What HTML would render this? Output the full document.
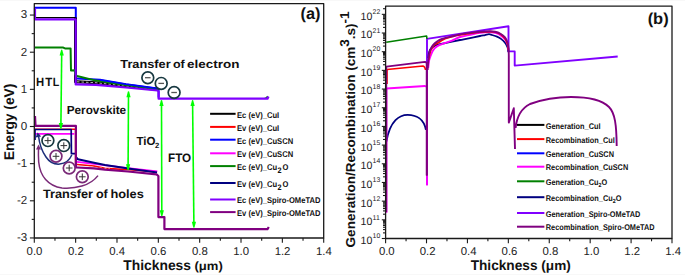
<!DOCTYPE html>
<html><head><meta charset="utf-8"><style>
html,body{margin:0;padding:0;background:#fff;}
body{width:685px;height:275px;overflow:hidden;}
svg{display:block;font-family:"Liberation Sans", sans-serif;text-rendering:geometricPrecision;}
</style></head><body>
<svg width="685" height="275" viewBox="0 0 685 275">
<rect width="685" height="275" fill="#fff"/>
<rect width="685" height="1" fill="#f8f8f8"/>
<rect y="274" width="685" height="1" fill="#f8f8f8"/>
<path d="M35.00,129.20 L75.60,129.20 L75.60,164.50 L77.00,164.50 L94.00,166.00 L105.00,168.40 L130.00,169.80 L157.00,171.90" fill="none" stroke="#ff0000" stroke-width="1.6" stroke-linejoin="round" />
<path d="M77.00,166.20 L94.00,167.30 L110.00,168.80" fill="none" stroke="#ffffff" stroke-width="0.6" stroke-linejoin="round" stroke-dasharray="2.5,2"/>
<path d="M35.50,133.90 L74.30,133.90" fill="none" stroke="#ff00ff" stroke-width="1.8" stroke-linejoin="round" />
<path d="M77.00,161.80 L94.00,163.80 L110.00,165.80 L128.00,168.10 L157.30,171.30" fill="none" stroke="#ff00ff" stroke-width="1.8" stroke-linejoin="round" />
<path d="M35.00,140.00 L35.00,129.50 L71.20,129.50 L71.40,153.70 L75.50,153.70" fill="none" stroke="#000080" stroke-width="1.7" stroke-linejoin="round" />
<path d="M75.80,157.00 L78.00,159.20 L94.00,162.70 L105.00,165.00 L130.00,168.80 L157.00,172.50" fill="none" stroke="#000080" stroke-width="2.0" stroke-linejoin="round" />
<path d="M35.00,116.00 L35.50,125.90 L75.90,125.90 L75.90,167.50 L77.00,167.50 L94.00,168.30 L105.00,169.70 L128.00,171.50 L156.50,174.40 L158.40,176.00 L158.40,217.10 L164.40,217.10 L164.40,229.10 L267.50,229.10 L268.80,227.00" fill="none" stroke="#800080" stroke-width="2.2" stroke-linejoin="round" />
<path d="M35.00,12.00 L35.00,7.80 L75.80,7.80 L75.80,78.50 L77.00,78.50 L100.00,79.80 L126.00,84.20 L157.50,88.50 L158.60,89.50 L158.60,97.50" fill="none" stroke="#0000ff" stroke-width="2.0" stroke-linejoin="round" />
<path d="M35.00,17.60 L75.50,17.60" fill="none" stroke="#000000" stroke-width="1.2" stroke-linejoin="round" />
<path d="M75.50,17.60 L75.50,81.80 L77.00,81.80 L96.00,82.70 L126.00,86.00 L157.50,89.50" fill="none" stroke="#000000" stroke-width="3.0" stroke-linejoin="round" />
<path d="M77.00,81.80 L96.00,82.70 L126.00,86.00 L150.00,88.70" fill="none" stroke="#ffffff" stroke-width="0.7" stroke-linejoin="round" stroke-dasharray="2.5,2"/>
<path d="M35.00,47.60 L63.30,47.60 L65.00,48.40 L70.60,48.40 L71.00,70.60 L74.70,70.30 L75.30,74.50 L77.00,76.00 L96.00,80.60 L126.00,84.90 L157.50,89.20" fill="none" stroke="#008000" stroke-width="2.0" stroke-linejoin="round" />
<path d="M100.00,80.00 L126.00,84.20 L157.50,88.50" fill="none" stroke="#0000ff" stroke-width="1.4" stroke-linejoin="round" />
<path d="M264.50,98.60 L266.50,97.60 L267.80,96.20" fill="none" stroke="#008000" stroke-width="1.4" stroke-linejoin="round" />
<path d="M35.00,8.00 L35.00,19.30 L75.70,19.30 L75.70,84.40 L77.00,84.40 L96.00,84.90 L126.00,87.50 L157.50,90.50 L158.60,91.50 L158.60,98.70 L267.50,98.70 L268.50,96.50" fill="none" stroke="#8000ff" stroke-width="2.2" stroke-linejoin="round" />
<line x1="61.70" y1="53.60" x2="60.90" y2="125.00" stroke="#00ff00" stroke-width="1.6"/>
<path d="M59.60,55.60 L61.10,49.90 L61.70,49.60 L62.30,49.90 L63.80,55.60 Z" fill="#00ff00"/>
<path d="M58.80,123.00 L60.30,128.70 L60.90,129.00 L61.50,128.70 L63.00,123.00 Z" fill="#00ff00"/>
<line x1="128.50" y1="95.20" x2="128.10" y2="166.30" stroke="#00ff00" stroke-width="1.6"/>
<path d="M126.40,97.20 L127.90,91.50 L128.50,91.20 L129.10,91.50 L130.60,97.20 Z" fill="#00ff00"/>
<path d="M126.00,164.30 L127.50,170.00 L128.10,170.30 L128.70,170.00 L130.20,164.30 Z" fill="#00ff00"/>
<line x1="161.50" y1="103.90" x2="161.80" y2="212.20" stroke="#00ff00" stroke-width="1.6"/>
<path d="M159.40,105.90 L160.90,100.20 L161.50,99.90 L162.10,100.20 L163.60,105.90 Z" fill="#00ff00"/>
<path d="M159.70,210.20 L161.20,215.90 L161.80,216.20 L162.40,215.90 L163.90,210.20 Z" fill="#00ff00"/>
<line x1="192.60" y1="103.90" x2="193.90" y2="223.80" stroke="#00ff00" stroke-width="1.6"/>
<path d="M190.50,105.90 L192.00,100.20 L192.60,99.90 L193.20,100.20 L194.70,105.90 Z" fill="#00ff00"/>
<path d="M191.80,221.80 L193.30,227.50 L193.90,227.80 L194.50,227.50 L196.00,221.80 Z" fill="#00ff00"/>
<path d="M 71.8,155 C 67,166 53,167.5 46,157 C 41.5,150.5 39.2,142 38.6,136.5" fill="none" stroke="#1c2f7a" stroke-width="1.5" stroke-linejoin="round" />
<path d="M35.6,137.6 L37.6,132.6 L41.2,136.4 Z" fill="#1c2f7a"/>
<path d="M 98,175.6 C 90,186 75,189 62,188 C 48,186 40,176 38.7,162 C 38.3,155 38.4,151 38.5,148.5" fill="none" stroke="#7a2a78" stroke-width="1.5" stroke-linejoin="round" />
<path d="M36.0,149.6 L38.5,144.6 L41.0,149.6 Z" fill="#7a2a78"/>
<circle cx="147.8" cy="77.7" r="5.9" fill="none" stroke="#173840" stroke-width="1.7"/>
<line x1="145.00" y1="77.70" x2="150.60" y2="77.70" stroke="#555" stroke-width="1.3"/>
<circle cx="161.2" cy="83.4" r="5.9" fill="none" stroke="#173840" stroke-width="1.7"/>
<line x1="158.40" y1="83.40" x2="164.00" y2="83.40" stroke="#555" stroke-width="1.3"/>
<circle cx="174.1" cy="92.5" r="5.9" fill="none" stroke="#173840" stroke-width="1.7"/>
<line x1="171.30" y1="92.50" x2="176.90" y2="92.50" stroke="#555" stroke-width="1.3"/>
<circle cx="47.9" cy="140.6" r="5.9" fill="none" stroke="#173840" stroke-width="1.7"/>
<line x1="44.60" y1="140.60" x2="51.20" y2="140.60" stroke="#333" stroke-width="1.0"/>
<line x1="47.90" y1="137.30" x2="47.90" y2="143.90" stroke="#333" stroke-width="1.0"/>
<circle cx="63.8" cy="145.6" r="5.9" fill="none" stroke="#173840" stroke-width="1.7"/>
<line x1="60.50" y1="145.60" x2="67.10" y2="145.60" stroke="#333" stroke-width="1.0"/>
<line x1="63.80" y1="142.30" x2="63.80" y2="148.90" stroke="#333" stroke-width="1.0"/>
<circle cx="56.0" cy="156.3" r="5.9" fill="none" stroke="#7a2a78" stroke-width="1.7"/>
<line x1="52.70" y1="156.30" x2="59.30" y2="156.30" stroke="#333" stroke-width="1.0"/>
<line x1="56.00" y1="153.00" x2="56.00" y2="159.60" stroke="#333" stroke-width="1.0"/>
<circle cx="69.2" cy="168.0" r="5.9" fill="none" stroke="#7a2a78" stroke-width="1.7"/>
<line x1="65.90" y1="168.00" x2="72.50" y2="168.00" stroke="#333" stroke-width="1.0"/>
<line x1="69.20" y1="164.70" x2="69.20" y2="171.30" stroke="#333" stroke-width="1.0"/>
<circle cx="82.3" cy="176.8" r="5.9" fill="none" stroke="#7a2a78" stroke-width="1.7"/>
<line x1="79.00" y1="176.80" x2="85.60" y2="176.80" stroke="#333" stroke-width="1.0"/>
<line x1="82.30" y1="173.50" x2="82.30" y2="180.10" stroke="#333" stroke-width="1.0"/>
<line x1="210.10" y1="113.80" x2="235.60" y2="113.80" stroke="#000000" stroke-width="2.0"/>
<text transform="translate(237.0,117.60) scale(0.907,1)" font-size="8.4" font-weight="bold" fill="#111">Ec (eV)_CuI</text>
<line x1="210.10" y1="126.90" x2="235.60" y2="126.90" stroke="#ff0000" stroke-width="2.0"/>
<text transform="translate(237.0,130.70) scale(0.907,1)" font-size="8.4" font-weight="bold" fill="#111">Ev (eV)_CuI</text>
<line x1="210.10" y1="139.70" x2="235.60" y2="139.70" stroke="#0000ff" stroke-width="2.0"/>
<text transform="translate(237.0,143.50) scale(0.907,1)" font-size="8.4" font-weight="bold" fill="#111">Ec (eV)_CuSCN</text>
<line x1="210.10" y1="153.30" x2="235.60" y2="153.30" stroke="#ff00ff" stroke-width="2.0"/>
<text transform="translate(237.0,157.10) scale(0.907,1)" font-size="8.4" font-weight="bold" fill="#111">Ev (eV)_CuSCN</text>
<line x1="210.10" y1="166.10" x2="235.60" y2="166.10" stroke="#008000" stroke-width="2.0"/>
<text transform="translate(237.0,169.90) scale(0.907,1)" font-size="8.4" font-weight="bold" fill="#111">Ec (eV)_Cu<tspan font-size="8.0" dx="0.5" dy="2.7">2</tspan><tspan dx="0.9" dy="-2.7">O</tspan></text>
<line x1="210.10" y1="183.00" x2="235.60" y2="183.00" stroke="#000080" stroke-width="2.0"/>
<text transform="translate(237.0,186.80) scale(0.907,1)" font-size="8.4" font-weight="bold" fill="#111">Ev (eV)_Cu<tspan font-size="8.0" dx="0.5" dy="2.7">2</tspan><tspan dx="0.9" dy="-2.7">O</tspan></text>
<line x1="210.10" y1="199.50" x2="235.60" y2="199.50" stroke="#8000ff" stroke-width="2.0"/>
<text transform="translate(237.0,203.30) scale(0.907,1)" font-size="8.4" font-weight="bold" fill="#111">Ec (eV)_Spiro-OMeTAD</text>
<line x1="210.10" y1="212.10" x2="235.60" y2="212.10" stroke="#800080" stroke-width="2.0"/>
<text transform="translate(237.0,215.90) scale(0.907,1)" font-size="8.4" font-weight="bold" fill="#111">Ev (eV)_Spiro-OMeTAD</text>
<rect x="34.3" y="3.6" width="289.40" height="234.40" fill="none" stroke="#1a1a1a" stroke-width="1.3" stroke-linejoin="round"/>
<line x1="34.30" y1="238.00" x2="34.30" y2="242.80" stroke="#1a1a1a" stroke-width="1.1"/>
<line x1="54.97" y1="238.00" x2="54.97" y2="240.80" stroke="#1a1a1a" stroke-width="1.1"/>
<line x1="75.64" y1="238.00" x2="75.64" y2="242.80" stroke="#1a1a1a" stroke-width="1.1"/>
<line x1="96.31" y1="238.00" x2="96.31" y2="240.80" stroke="#1a1a1a" stroke-width="1.1"/>
<line x1="116.99" y1="238.00" x2="116.99" y2="242.80" stroke="#1a1a1a" stroke-width="1.1"/>
<line x1="137.66" y1="238.00" x2="137.66" y2="240.80" stroke="#1a1a1a" stroke-width="1.1"/>
<line x1="158.33" y1="238.00" x2="158.33" y2="242.80" stroke="#1a1a1a" stroke-width="1.1"/>
<line x1="179.00" y1="238.00" x2="179.00" y2="240.80" stroke="#1a1a1a" stroke-width="1.1"/>
<line x1="199.67" y1="238.00" x2="199.67" y2="242.80" stroke="#1a1a1a" stroke-width="1.1"/>
<line x1="220.34" y1="238.00" x2="220.34" y2="240.80" stroke="#1a1a1a" stroke-width="1.1"/>
<line x1="241.01" y1="238.00" x2="241.01" y2="242.80" stroke="#1a1a1a" stroke-width="1.1"/>
<line x1="261.69" y1="238.00" x2="261.69" y2="240.80" stroke="#1a1a1a" stroke-width="1.1"/>
<line x1="282.36" y1="238.00" x2="282.36" y2="242.80" stroke="#1a1a1a" stroke-width="1.1"/>
<line x1="303.03" y1="238.00" x2="303.03" y2="240.80" stroke="#1a1a1a" stroke-width="1.1"/>
<line x1="323.70" y1="238.00" x2="323.70" y2="242.80" stroke="#1a1a1a" stroke-width="1.1"/>
<text x="34.5" y="255.4" font-size="11.4" font-weight="normal" text-anchor="middle" fill="#222" >0.0</text>
<text x="75.84" y="255.4" font-size="11.4" font-weight="normal" text-anchor="middle" fill="#222" >0.2</text>
<text x="117.19" y="255.4" font-size="11.4" font-weight="normal" text-anchor="middle" fill="#222" >0.4</text>
<text x="158.53" y="255.4" font-size="11.4" font-weight="normal" text-anchor="middle" fill="#222" >0.6</text>
<text x="199.87" y="255.4" font-size="11.4" font-weight="normal" text-anchor="middle" fill="#222" >0.8</text>
<text x="241.21" y="255.4" font-size="11.4" font-weight="normal" text-anchor="middle" fill="#222" >1.0</text>
<text x="282.56" y="255.4" font-size="11.4" font-weight="normal" text-anchor="middle" fill="#222" >1.2</text>
<text x="323.9" y="255.4" font-size="11.4" font-weight="normal" text-anchor="middle" fill="#222" >1.4</text>
<line x1="29.90" y1="237.95" x2="34.30" y2="237.95" stroke="#1a1a1a" stroke-width="1.1"/>
<line x1="31.70" y1="219.38" x2="34.30" y2="219.38" stroke="#1a1a1a" stroke-width="1.1"/>
<line x1="29.90" y1="200.80" x2="34.30" y2="200.80" stroke="#1a1a1a" stroke-width="1.1"/>
<line x1="31.70" y1="182.22" x2="34.30" y2="182.22" stroke="#1a1a1a" stroke-width="1.1"/>
<line x1="29.90" y1="163.65" x2="34.30" y2="163.65" stroke="#1a1a1a" stroke-width="1.1"/>
<line x1="31.70" y1="145.07" x2="34.30" y2="145.07" stroke="#1a1a1a" stroke-width="1.1"/>
<line x1="29.90" y1="126.50" x2="34.30" y2="126.50" stroke="#1a1a1a" stroke-width="1.1"/>
<line x1="31.70" y1="107.92" x2="34.30" y2="107.92" stroke="#1a1a1a" stroke-width="1.1"/>
<line x1="29.90" y1="89.35" x2="34.30" y2="89.35" stroke="#1a1a1a" stroke-width="1.1"/>
<line x1="31.70" y1="70.78" x2="34.30" y2="70.78" stroke="#1a1a1a" stroke-width="1.1"/>
<line x1="29.90" y1="52.20" x2="34.30" y2="52.20" stroke="#1a1a1a" stroke-width="1.1"/>
<line x1="31.70" y1="33.62" x2="34.30" y2="33.62" stroke="#1a1a1a" stroke-width="1.1"/>
<line x1="29.90" y1="15.05" x2="34.30" y2="15.05" stroke="#1a1a1a" stroke-width="1.1"/>
<text x="27.2" y="241.35" font-size="11.6" font-weight="normal" text-anchor="end" fill="#222" >-3</text>
<text x="27.2" y="204.2" font-size="11.6" font-weight="normal" text-anchor="end" fill="#222" >-2</text>
<text x="27.2" y="167.05" font-size="11.6" font-weight="normal" text-anchor="end" fill="#222" >-1</text>
<text x="27.2" y="129.9" font-size="11.6" font-weight="normal" text-anchor="end" fill="#222" >0</text>
<text x="27.2" y="92.75" font-size="11.6" font-weight="normal" text-anchor="end" fill="#222" >1</text>
<text x="27.2" y="55.6" font-size="11.6" font-weight="normal" text-anchor="end" fill="#222" >2</text>
<text x="27.2" y="18.45" font-size="11.6" font-weight="normal" text-anchor="end" fill="#222" >3</text>
<path d="M427.00,185.00 L427.00,38.90 L508.50,26.30 L508.50,51.40 L514.70,51.40 L514.70,65.60 L617.70,56.50" fill="none" stroke="#8000ff" stroke-width="1.9" stroke-linejoin="round" />
<path d="M386.20,42.20 L426.60,36.00 L427.00,39.00" fill="none" stroke="#008000" stroke-width="1.6" stroke-linejoin="round" />
<path d="M 386.4,141.5 C 390,120 400,114.8 407.6,114.8 C 416,114.8 424,119 425.9,129.9" fill="none" stroke="#000080" stroke-width="1.8" stroke-linejoin="round" />
<path d="M386.50,212.70 L386.50,88.50 L425.00,86.00 L427.00,87.00 L427.00,185.50" fill="none" stroke="#ff00ff" stroke-width="1.8" stroke-linejoin="round" />
<path d="M387.30,84.00 L387.30,69.80" fill="none" stroke="#ff0000" stroke-width="1.0" stroke-linejoin="round" />
<path d="M387.00,69.60 L423.00,66.00 Q425,66.5 425.5,70" fill="none" stroke="#ff0000" stroke-width="1.5" stroke-linejoin="round" />
<path d="M386.30,212.00 L386.30,66.70 L425.00,61.80 L426.80,63.00 L426.80,175.50" fill="none" stroke="#800080" stroke-width="1.8" stroke-linejoin="round" />
<path d="M426.80,62.00 L426.80,175.50" fill="none" stroke="#800080" stroke-width="1.9" stroke-linejoin="round" />
<path d="M428.40,58.00 C428.53,57.00 428.77,53.57 429.20,52.00 C429.63,50.43 430.20,49.57 431.00,48.60 C431.80,47.63 433.00,46.83 434.00,46.20 C435.00,45.57 435.17,45.32 437.00,44.80 C438.83,44.28 442.50,43.63 445.00,43.10 C447.50,42.57 449.50,42.12 452.00,41.60 C454.50,41.08 457.00,40.58 460.00,40.00 C463.00,39.42 466.67,38.77 470.00,38.10 C473.33,37.43 477.50,36.50 480.00,36.00 C482.50,35.50 483.50,35.40 485.00,35.10 C486.50,34.80 487.83,34.22 489.00,34.20 C490.17,34.18 490.67,34.58 492.00,35.00 C493.33,35.42 495.50,36.05 497.00,36.70 C498.50,37.35 499.67,37.90 501.00,38.90 C502.33,39.90 503.92,41.33 505.00,42.70 C506.08,44.07 506.92,45.55 507.50,47.10 C508.08,48.65 508.33,51.18 508.50,52.00" fill="none" stroke="#000080" stroke-width="1.8" stroke-linejoin="round" />
<path d="M428.20,68.00 C428.33,66.83 428.70,62.75 429.00,61.00 C429.30,59.25 429.33,59.25 430.00,57.50 C430.67,55.75 431.83,52.35 433.00,50.50 C434.17,48.65 435.00,47.65 437.00,46.40 C439.00,45.15 442.50,43.97 445.00,43.00 C447.50,42.03 449.50,41.60 452.00,40.60 C454.50,39.60 457.00,37.97 460.00,37.00 C463.00,36.03 466.67,35.48 470.00,34.80 C473.33,34.12 476.83,33.37 480.00,32.90 C483.17,32.43 486.50,32.00 489.00,32.00 C491.50,32.00 493.17,32.42 495.00,32.90 C496.83,33.38 498.33,33.82 500.00,34.90 C501.67,35.98 503.75,37.85 505.00,39.40 C506.25,40.95 506.92,42.43 507.50,44.20 C508.08,45.97 508.33,49.03 508.50,50.00" fill="none" stroke="#ff00ff" stroke-width="1.9" stroke-linejoin="round" />
<path d="M428.60,60.00 C428.75,59.17 429.10,56.67 429.50,55.00 C429.90,53.33 430.25,51.58 431.00,50.00 C431.75,48.42 433.00,46.58 434.00,45.50 C435.00,44.42 435.83,44.25 437.00,43.50 C438.17,42.75 439.67,41.78 441.00,41.00 C442.33,40.22 443.17,39.53 445.00,38.80 C446.83,38.07 449.50,37.23 452.00,36.60 C454.50,35.97 457.00,35.53 460.00,35.00 C463.00,34.47 466.67,33.87 470.00,33.40 C473.33,32.93 476.67,32.50 480.00,32.20 C483.33,31.90 487.33,31.58 490.00,31.60 C492.67,31.62 494.17,31.82 496.00,32.30 C497.83,32.78 499.50,33.45 501.00,34.50 C502.50,35.55 503.92,37.02 505.00,38.60 C506.08,40.18 506.92,42.10 507.50,44.00 C508.08,45.90 508.33,49.00 508.50,50.00" fill="none" stroke="#ff0000" stroke-width="1.7" stroke-linejoin="round" />
<path d="M427.60,70.00 C427.73,68.33 428.12,62.83 428.40,60.00 C428.68,57.17 428.95,54.75 429.30,53.00 C429.65,51.25 429.88,50.80 430.50,49.50 C431.12,48.20 431.92,46.52 433.00,45.20 C434.08,43.88 435.50,42.63 437.00,41.60 C438.50,40.57 439.50,39.87 442.00,39.00 C444.50,38.13 449.00,37.17 452.00,36.40 C455.00,35.63 457.00,34.98 460.00,34.40 C463.00,33.82 466.67,33.33 470.00,32.90 C473.33,32.47 476.67,32.07 480.00,31.80 C483.33,31.53 487.50,31.30 490.00,31.30 C492.50,31.30 493.33,31.43 495.00,31.80 C496.67,32.17 498.33,32.58 500.00,33.50 C501.67,34.42 503.73,35.77 505.00,37.30 C506.27,38.83 507.00,40.70 507.60,42.70 C508.20,44.70 508.40,47.08 508.60,49.30 C508.80,51.52 508.77,54.88 508.80,56.00 L508.8,122.6 L513.8,108.2 L515,149 M515.6,128 C517,115 522,108 530,104 C545,98.5 560,97 571,97 C590,97 603,101 609,107 C615,113 616.5,125 616.7,146" fill="none" stroke="#800080" stroke-width="1.9" stroke-linejoin="round" />
<line x1="517.00" y1="124.90" x2="544.40" y2="124.90" stroke="#000000" stroke-width="2.0"/>
<text transform="translate(545.8,128.60) scale(0.885,1)" font-size="8.3" font-weight="bold" fill="#111">Generation_CuI</text>
<line x1="517.00" y1="139.10" x2="544.40" y2="139.10" stroke="#ff0000" stroke-width="2.0"/>
<text transform="translate(545.8,142.80) scale(0.885,1)" font-size="8.3" font-weight="bold" fill="#111">Recombination_CuI</text>
<line x1="517.00" y1="153.30" x2="544.40" y2="153.30" stroke="#0000ff" stroke-width="2.0"/>
<text transform="translate(545.8,157.00) scale(0.885,1)" font-size="8.3" font-weight="bold" fill="#111">Generation_CuSCN</text>
<line x1="517.00" y1="166.70" x2="544.40" y2="166.70" stroke="#ff00ff" stroke-width="2.0"/>
<text transform="translate(545.8,170.40) scale(0.885,1)" font-size="8.3" font-weight="bold" fill="#111">Recombination_CuSCN</text>
<line x1="517.00" y1="181.30" x2="544.40" y2="181.30" stroke="#008000" stroke-width="2.0"/>
<text transform="translate(545.8,185.00) scale(0.885,1)" font-size="8.3" font-weight="bold" fill="#111">Generation_Cu<tspan font-size="6" dy="2.2">2</tspan><tspan dy="-2.2">O</tspan></text>
<line x1="517.00" y1="197.20" x2="544.40" y2="197.20" stroke="#000080" stroke-width="2.0"/>
<text transform="translate(545.8,200.90) scale(0.885,1)" font-size="8.3" font-weight="bold" fill="#111">Recombination_Cu<tspan font-size="6" dy="2.2">2</tspan><tspan dy="-2.2">O</tspan></text>
<line x1="517.00" y1="213.00" x2="544.40" y2="213.00" stroke="#8000ff" stroke-width="2.0"/>
<text transform="translate(545.8,216.70) scale(0.885,1)" font-size="8.3" font-weight="bold" fill="#111">Generation_Spiro-OMeTAD</text>
<line x1="517.00" y1="226.70" x2="544.40" y2="226.70" stroke="#800080" stroke-width="2.0"/>
<text transform="translate(545.8,230.40) scale(0.885,1)" font-size="8.3" font-weight="bold" fill="#111">Recombination_Spiro-OMeTAD</text>
<rect x="385.6" y="6.1" width="286.40" height="232.40" fill="none" stroke="#1a1a1a" stroke-width="1.3" stroke-linejoin="round"/>
<line x1="385.60" y1="238.50" x2="385.60" y2="243.30" stroke="#1a1a1a" stroke-width="1.1"/>
<line x1="406.06" y1="238.50" x2="406.06" y2="241.30" stroke="#1a1a1a" stroke-width="1.1"/>
<line x1="426.51" y1="238.50" x2="426.51" y2="243.30" stroke="#1a1a1a" stroke-width="1.1"/>
<line x1="446.97" y1="238.50" x2="446.97" y2="241.30" stroke="#1a1a1a" stroke-width="1.1"/>
<line x1="467.43" y1="238.50" x2="467.43" y2="243.30" stroke="#1a1a1a" stroke-width="1.1"/>
<line x1="487.89" y1="238.50" x2="487.89" y2="241.30" stroke="#1a1a1a" stroke-width="1.1"/>
<line x1="508.34" y1="238.50" x2="508.34" y2="243.30" stroke="#1a1a1a" stroke-width="1.1"/>
<line x1="528.80" y1="238.50" x2="528.80" y2="241.30" stroke="#1a1a1a" stroke-width="1.1"/>
<line x1="549.26" y1="238.50" x2="549.26" y2="243.30" stroke="#1a1a1a" stroke-width="1.1"/>
<line x1="569.71" y1="238.50" x2="569.71" y2="241.30" stroke="#1a1a1a" stroke-width="1.1"/>
<line x1="590.17" y1="238.50" x2="590.17" y2="243.30" stroke="#1a1a1a" stroke-width="1.1"/>
<line x1="610.63" y1="238.50" x2="610.63" y2="241.30" stroke="#1a1a1a" stroke-width="1.1"/>
<line x1="631.09" y1="238.50" x2="631.09" y2="243.30" stroke="#1a1a1a" stroke-width="1.1"/>
<line x1="651.54" y1="238.50" x2="651.54" y2="241.30" stroke="#1a1a1a" stroke-width="1.1"/>
<line x1="672.00" y1="238.50" x2="672.00" y2="243.30" stroke="#1a1a1a" stroke-width="1.1"/>
<text x="386.8" y="255.4" font-size="11.4" font-weight="normal" text-anchor="middle" fill="#222" >0.0</text>
<text x="427.71" y="255.4" font-size="11.4" font-weight="normal" text-anchor="middle" fill="#222" >0.2</text>
<text x="468.63" y="255.4" font-size="11.4" font-weight="normal" text-anchor="middle" fill="#222" >0.4</text>
<text x="509.54" y="255.4" font-size="11.4" font-weight="normal" text-anchor="middle" fill="#222" >0.6</text>
<text x="550.46" y="255.4" font-size="11.4" font-weight="normal" text-anchor="middle" fill="#222" >0.8</text>
<text x="591.37" y="255.4" font-size="11.4" font-weight="normal" text-anchor="middle" fill="#222" >1.0</text>
<text x="632.29" y="255.4" font-size="11.4" font-weight="normal" text-anchor="middle" fill="#222" >1.2</text>
<text x="673.2" y="255.4" font-size="11.4" font-weight="normal" text-anchor="middle" fill="#222" >1.4</text>
<line x1="381.80" y1="238.50" x2="385.60" y2="238.50" stroke="#1a1a1a" stroke-width="1.1"/>
<line x1="383.00" y1="232.88" x2="385.60" y2="232.88" stroke="#1a1a1a" stroke-width="1.1"/>
<line x1="383.00" y1="229.59" x2="385.60" y2="229.59" stroke="#1a1a1a" stroke-width="1.1"/>
<line x1="383.00" y1="227.25" x2="385.60" y2="227.25" stroke="#1a1a1a" stroke-width="1.1"/>
<line x1="383.00" y1="225.44" x2="385.60" y2="225.44" stroke="#1a1a1a" stroke-width="1.1"/>
<line x1="383.00" y1="223.96" x2="385.60" y2="223.96" stroke="#1a1a1a" stroke-width="1.1"/>
<line x1="383.00" y1="222.71" x2="385.60" y2="222.71" stroke="#1a1a1a" stroke-width="1.1"/>
<line x1="383.00" y1="221.63" x2="385.60" y2="221.63" stroke="#1a1a1a" stroke-width="1.1"/>
<line x1="383.00" y1="220.67" x2="385.60" y2="220.67" stroke="#1a1a1a" stroke-width="1.1"/>
<text x="372.4" y="243.9" font-size="10.6" font-weight="normal" text-anchor="end" fill="#222" >10</text>
<text x="372.6" y="238.2" font-size="6.9" font-weight="normal" text-anchor="start" fill="#222" >10</text>
<line x1="381.80" y1="219.82" x2="385.60" y2="219.82" stroke="#1a1a1a" stroke-width="1.1"/>
<line x1="383.00" y1="214.20" x2="385.60" y2="214.20" stroke="#1a1a1a" stroke-width="1.1"/>
<line x1="383.00" y1="210.91" x2="385.60" y2="210.91" stroke="#1a1a1a" stroke-width="1.1"/>
<line x1="383.00" y1="208.57" x2="385.60" y2="208.57" stroke="#1a1a1a" stroke-width="1.1"/>
<line x1="383.00" y1="206.76" x2="385.60" y2="206.76" stroke="#1a1a1a" stroke-width="1.1"/>
<line x1="383.00" y1="205.28" x2="385.60" y2="205.28" stroke="#1a1a1a" stroke-width="1.1"/>
<line x1="383.00" y1="204.03" x2="385.60" y2="204.03" stroke="#1a1a1a" stroke-width="1.1"/>
<line x1="383.00" y1="202.95" x2="385.60" y2="202.95" stroke="#1a1a1a" stroke-width="1.1"/>
<line x1="383.00" y1="201.99" x2="385.60" y2="201.99" stroke="#1a1a1a" stroke-width="1.1"/>
<text x="372.4" y="225.22" font-size="10.6" font-weight="normal" text-anchor="end" fill="#222" >10</text>
<text x="372.6" y="219.52" font-size="6.9" font-weight="normal" text-anchor="start" fill="#222" >11</text>
<line x1="381.80" y1="201.14" x2="385.60" y2="201.14" stroke="#1a1a1a" stroke-width="1.1"/>
<line x1="383.00" y1="195.52" x2="385.60" y2="195.52" stroke="#1a1a1a" stroke-width="1.1"/>
<line x1="383.00" y1="192.23" x2="385.60" y2="192.23" stroke="#1a1a1a" stroke-width="1.1"/>
<line x1="383.00" y1="189.89" x2="385.60" y2="189.89" stroke="#1a1a1a" stroke-width="1.1"/>
<line x1="383.00" y1="188.08" x2="385.60" y2="188.08" stroke="#1a1a1a" stroke-width="1.1"/>
<line x1="383.00" y1="186.60" x2="385.60" y2="186.60" stroke="#1a1a1a" stroke-width="1.1"/>
<line x1="383.00" y1="185.35" x2="385.60" y2="185.35" stroke="#1a1a1a" stroke-width="1.1"/>
<line x1="383.00" y1="184.27" x2="385.60" y2="184.27" stroke="#1a1a1a" stroke-width="1.1"/>
<line x1="383.00" y1="183.31" x2="385.60" y2="183.31" stroke="#1a1a1a" stroke-width="1.1"/>
<text x="372.4" y="206.54" font-size="10.6" font-weight="normal" text-anchor="end" fill="#222" >10</text>
<text x="372.6" y="200.84" font-size="6.9" font-weight="normal" text-anchor="start" fill="#222" >12</text>
<line x1="381.80" y1="182.46" x2="385.60" y2="182.46" stroke="#1a1a1a" stroke-width="1.1"/>
<line x1="383.00" y1="176.84" x2="385.60" y2="176.84" stroke="#1a1a1a" stroke-width="1.1"/>
<line x1="383.00" y1="173.55" x2="385.60" y2="173.55" stroke="#1a1a1a" stroke-width="1.1"/>
<line x1="383.00" y1="171.21" x2="385.60" y2="171.21" stroke="#1a1a1a" stroke-width="1.1"/>
<line x1="383.00" y1="169.40" x2="385.60" y2="169.40" stroke="#1a1a1a" stroke-width="1.1"/>
<line x1="383.00" y1="167.92" x2="385.60" y2="167.92" stroke="#1a1a1a" stroke-width="1.1"/>
<line x1="383.00" y1="166.67" x2="385.60" y2="166.67" stroke="#1a1a1a" stroke-width="1.1"/>
<line x1="383.00" y1="165.59" x2="385.60" y2="165.59" stroke="#1a1a1a" stroke-width="1.1"/>
<line x1="383.00" y1="164.63" x2="385.60" y2="164.63" stroke="#1a1a1a" stroke-width="1.1"/>
<text x="372.4" y="187.86" font-size="10.6" font-weight="normal" text-anchor="end" fill="#222" >10</text>
<text x="372.6" y="182.16" font-size="6.9" font-weight="normal" text-anchor="start" fill="#222" >13</text>
<line x1="381.80" y1="163.78" x2="385.60" y2="163.78" stroke="#1a1a1a" stroke-width="1.1"/>
<line x1="383.00" y1="158.16" x2="385.60" y2="158.16" stroke="#1a1a1a" stroke-width="1.1"/>
<line x1="383.00" y1="154.87" x2="385.60" y2="154.87" stroke="#1a1a1a" stroke-width="1.1"/>
<line x1="383.00" y1="152.53" x2="385.60" y2="152.53" stroke="#1a1a1a" stroke-width="1.1"/>
<line x1="383.00" y1="150.72" x2="385.60" y2="150.72" stroke="#1a1a1a" stroke-width="1.1"/>
<line x1="383.00" y1="149.24" x2="385.60" y2="149.24" stroke="#1a1a1a" stroke-width="1.1"/>
<line x1="383.00" y1="147.99" x2="385.60" y2="147.99" stroke="#1a1a1a" stroke-width="1.1"/>
<line x1="383.00" y1="146.91" x2="385.60" y2="146.91" stroke="#1a1a1a" stroke-width="1.1"/>
<line x1="383.00" y1="145.95" x2="385.60" y2="145.95" stroke="#1a1a1a" stroke-width="1.1"/>
<text x="372.4" y="169.18" font-size="10.6" font-weight="normal" text-anchor="end" fill="#222" >10</text>
<text x="372.6" y="163.48" font-size="6.9" font-weight="normal" text-anchor="start" fill="#222" >14</text>
<line x1="381.80" y1="145.10" x2="385.60" y2="145.10" stroke="#1a1a1a" stroke-width="1.1"/>
<line x1="383.00" y1="139.48" x2="385.60" y2="139.48" stroke="#1a1a1a" stroke-width="1.1"/>
<line x1="383.00" y1="136.19" x2="385.60" y2="136.19" stroke="#1a1a1a" stroke-width="1.1"/>
<line x1="383.00" y1="133.85" x2="385.60" y2="133.85" stroke="#1a1a1a" stroke-width="1.1"/>
<line x1="383.00" y1="132.04" x2="385.60" y2="132.04" stroke="#1a1a1a" stroke-width="1.1"/>
<line x1="383.00" y1="130.56" x2="385.60" y2="130.56" stroke="#1a1a1a" stroke-width="1.1"/>
<line x1="383.00" y1="129.31" x2="385.60" y2="129.31" stroke="#1a1a1a" stroke-width="1.1"/>
<line x1="383.00" y1="128.23" x2="385.60" y2="128.23" stroke="#1a1a1a" stroke-width="1.1"/>
<line x1="383.00" y1="127.27" x2="385.60" y2="127.27" stroke="#1a1a1a" stroke-width="1.1"/>
<text x="372.4" y="150.5" font-size="10.6" font-weight="normal" text-anchor="end" fill="#222" >10</text>
<text x="372.6" y="144.8" font-size="6.9" font-weight="normal" text-anchor="start" fill="#222" >15</text>
<line x1="381.80" y1="126.42" x2="385.60" y2="126.42" stroke="#1a1a1a" stroke-width="1.1"/>
<line x1="383.00" y1="120.80" x2="385.60" y2="120.80" stroke="#1a1a1a" stroke-width="1.1"/>
<line x1="383.00" y1="117.51" x2="385.60" y2="117.51" stroke="#1a1a1a" stroke-width="1.1"/>
<line x1="383.00" y1="115.17" x2="385.60" y2="115.17" stroke="#1a1a1a" stroke-width="1.1"/>
<line x1="383.00" y1="113.36" x2="385.60" y2="113.36" stroke="#1a1a1a" stroke-width="1.1"/>
<line x1="383.00" y1="111.88" x2="385.60" y2="111.88" stroke="#1a1a1a" stroke-width="1.1"/>
<line x1="383.00" y1="110.63" x2="385.60" y2="110.63" stroke="#1a1a1a" stroke-width="1.1"/>
<line x1="383.00" y1="109.55" x2="385.60" y2="109.55" stroke="#1a1a1a" stroke-width="1.1"/>
<line x1="383.00" y1="108.59" x2="385.60" y2="108.59" stroke="#1a1a1a" stroke-width="1.1"/>
<text x="372.4" y="131.82" font-size="10.6" font-weight="normal" text-anchor="end" fill="#222" >10</text>
<text x="372.6" y="126.12" font-size="6.9" font-weight="normal" text-anchor="start" fill="#222" >16</text>
<line x1="381.80" y1="107.74" x2="385.60" y2="107.74" stroke="#1a1a1a" stroke-width="1.1"/>
<line x1="383.00" y1="102.12" x2="385.60" y2="102.12" stroke="#1a1a1a" stroke-width="1.1"/>
<line x1="383.00" y1="98.83" x2="385.60" y2="98.83" stroke="#1a1a1a" stroke-width="1.1"/>
<line x1="383.00" y1="96.49" x2="385.60" y2="96.49" stroke="#1a1a1a" stroke-width="1.1"/>
<line x1="383.00" y1="94.68" x2="385.60" y2="94.68" stroke="#1a1a1a" stroke-width="1.1"/>
<line x1="383.00" y1="93.20" x2="385.60" y2="93.20" stroke="#1a1a1a" stroke-width="1.1"/>
<line x1="383.00" y1="91.95" x2="385.60" y2="91.95" stroke="#1a1a1a" stroke-width="1.1"/>
<line x1="383.00" y1="90.87" x2="385.60" y2="90.87" stroke="#1a1a1a" stroke-width="1.1"/>
<line x1="383.00" y1="89.91" x2="385.60" y2="89.91" stroke="#1a1a1a" stroke-width="1.1"/>
<text x="372.4" y="113.14" font-size="10.6" font-weight="normal" text-anchor="end" fill="#222" >10</text>
<text x="372.6" y="107.44" font-size="6.9" font-weight="normal" text-anchor="start" fill="#222" >17</text>
<line x1="381.80" y1="89.06" x2="385.60" y2="89.06" stroke="#1a1a1a" stroke-width="1.1"/>
<line x1="383.00" y1="83.44" x2="385.60" y2="83.44" stroke="#1a1a1a" stroke-width="1.1"/>
<line x1="383.00" y1="80.15" x2="385.60" y2="80.15" stroke="#1a1a1a" stroke-width="1.1"/>
<line x1="383.00" y1="77.81" x2="385.60" y2="77.81" stroke="#1a1a1a" stroke-width="1.1"/>
<line x1="383.00" y1="76.00" x2="385.60" y2="76.00" stroke="#1a1a1a" stroke-width="1.1"/>
<line x1="383.00" y1="74.52" x2="385.60" y2="74.52" stroke="#1a1a1a" stroke-width="1.1"/>
<line x1="383.00" y1="73.27" x2="385.60" y2="73.27" stroke="#1a1a1a" stroke-width="1.1"/>
<line x1="383.00" y1="72.19" x2="385.60" y2="72.19" stroke="#1a1a1a" stroke-width="1.1"/>
<line x1="383.00" y1="71.23" x2="385.60" y2="71.23" stroke="#1a1a1a" stroke-width="1.1"/>
<text x="372.4" y="94.46" font-size="10.6" font-weight="normal" text-anchor="end" fill="#222" >10</text>
<text x="372.6" y="88.76" font-size="6.9" font-weight="normal" text-anchor="start" fill="#222" >18</text>
<line x1="381.80" y1="70.38" x2="385.60" y2="70.38" stroke="#1a1a1a" stroke-width="1.1"/>
<line x1="383.00" y1="64.76" x2="385.60" y2="64.76" stroke="#1a1a1a" stroke-width="1.1"/>
<line x1="383.00" y1="61.47" x2="385.60" y2="61.47" stroke="#1a1a1a" stroke-width="1.1"/>
<line x1="383.00" y1="59.13" x2="385.60" y2="59.13" stroke="#1a1a1a" stroke-width="1.1"/>
<line x1="383.00" y1="57.32" x2="385.60" y2="57.32" stroke="#1a1a1a" stroke-width="1.1"/>
<line x1="383.00" y1="55.84" x2="385.60" y2="55.84" stroke="#1a1a1a" stroke-width="1.1"/>
<line x1="383.00" y1="54.59" x2="385.60" y2="54.59" stroke="#1a1a1a" stroke-width="1.1"/>
<line x1="383.00" y1="53.51" x2="385.60" y2="53.51" stroke="#1a1a1a" stroke-width="1.1"/>
<line x1="383.00" y1="52.55" x2="385.60" y2="52.55" stroke="#1a1a1a" stroke-width="1.1"/>
<text x="372.4" y="75.78" font-size="10.6" font-weight="normal" text-anchor="end" fill="#222" >10</text>
<text x="372.6" y="70.08" font-size="6.9" font-weight="normal" text-anchor="start" fill="#222" >19</text>
<line x1="381.80" y1="51.70" x2="385.60" y2="51.70" stroke="#1a1a1a" stroke-width="1.1"/>
<line x1="383.00" y1="46.08" x2="385.60" y2="46.08" stroke="#1a1a1a" stroke-width="1.1"/>
<line x1="383.00" y1="42.79" x2="385.60" y2="42.79" stroke="#1a1a1a" stroke-width="1.1"/>
<line x1="383.00" y1="40.45" x2="385.60" y2="40.45" stroke="#1a1a1a" stroke-width="1.1"/>
<line x1="383.00" y1="38.64" x2="385.60" y2="38.64" stroke="#1a1a1a" stroke-width="1.1"/>
<line x1="383.00" y1="37.16" x2="385.60" y2="37.16" stroke="#1a1a1a" stroke-width="1.1"/>
<line x1="383.00" y1="35.91" x2="385.60" y2="35.91" stroke="#1a1a1a" stroke-width="1.1"/>
<line x1="383.00" y1="34.83" x2="385.60" y2="34.83" stroke="#1a1a1a" stroke-width="1.1"/>
<line x1="383.00" y1="33.87" x2="385.60" y2="33.87" stroke="#1a1a1a" stroke-width="1.1"/>
<text x="372.4" y="57.1" font-size="10.6" font-weight="normal" text-anchor="end" fill="#222" >10</text>
<text x="372.6" y="51.4" font-size="6.9" font-weight="normal" text-anchor="start" fill="#222" >20</text>
<line x1="381.80" y1="33.02" x2="385.60" y2="33.02" stroke="#1a1a1a" stroke-width="1.1"/>
<line x1="383.00" y1="27.40" x2="385.60" y2="27.40" stroke="#1a1a1a" stroke-width="1.1"/>
<line x1="383.00" y1="24.11" x2="385.60" y2="24.11" stroke="#1a1a1a" stroke-width="1.1"/>
<line x1="383.00" y1="21.77" x2="385.60" y2="21.77" stroke="#1a1a1a" stroke-width="1.1"/>
<line x1="383.00" y1="19.96" x2="385.60" y2="19.96" stroke="#1a1a1a" stroke-width="1.1"/>
<line x1="383.00" y1="18.48" x2="385.60" y2="18.48" stroke="#1a1a1a" stroke-width="1.1"/>
<line x1="383.00" y1="17.23" x2="385.60" y2="17.23" stroke="#1a1a1a" stroke-width="1.1"/>
<line x1="383.00" y1="16.15" x2="385.60" y2="16.15" stroke="#1a1a1a" stroke-width="1.1"/>
<line x1="383.00" y1="15.19" x2="385.60" y2="15.19" stroke="#1a1a1a" stroke-width="1.1"/>
<text x="372.4" y="38.42" font-size="10.6" font-weight="normal" text-anchor="end" fill="#222" >10</text>
<text x="372.6" y="32.72" font-size="6.9" font-weight="normal" text-anchor="start" fill="#222" >21</text>
<line x1="381.80" y1="14.34" x2="385.60" y2="14.34" stroke="#1a1a1a" stroke-width="1.1"/>
<line x1="383.00" y1="8.72" x2="385.60" y2="8.72" stroke="#1a1a1a" stroke-width="1.1"/>
<text x="372.4" y="19.74" font-size="10.6" font-weight="normal" text-anchor="end" fill="#222" >10</text>
<text x="372.6" y="14.04" font-size="6.9" font-weight="normal" text-anchor="start" fill="#222" >22</text>
<text x="36.00" y="86.30" font-size="11.86" font-weight="bold" fill="#111" textLength="8.16" lengthAdjust="spacingAndGlyphs">H</text>
<text x="45.25" y="86.30" font-size="11.86" font-weight="bold" fill="#111" textLength="7.02" lengthAdjust="spacingAndGlyphs">T</text>
<text x="52.65" y="86.30" font-size="11.86" font-weight="bold" fill="#111" textLength="6.50" lengthAdjust="spacingAndGlyphs">L</text>
<text x="66.75" y="113.50" font-size="11.74" font-weight="bold" fill="#111" textLength="59.41" lengthAdjust="spacingAndGlyphs">Perovskite</text>
<text x="136.55" y="144.50" font-size="11.74" font-weight="bold" fill="#111" textLength="18.98" lengthAdjust="spacingAndGlyphs">TiO</text>
<text x="155.00" y="148.25" font-size="7.61" font-weight="bold" fill="#111">2</text>
<text x="168.00" y="161.60" font-size="12.20" font-weight="bold" fill="#111" textLength="23.16" lengthAdjust="spacingAndGlyphs">FTO</text>
<text x="120.30" y="67.90" font-size="11.62" font-weight="bold" fill="#111" textLength="50.40" lengthAdjust="spacingAndGlyphs">Transfer</text>
<text x="172.90" y="67.80" font-size="11.48" font-weight="bold" fill="#111" textLength="11.84" lengthAdjust="spacingAndGlyphs">of</text>
<text x="187.10" y="67.80" font-size="11.48" font-weight="bold" fill="#111" textLength="52.43" lengthAdjust="spacingAndGlyphs">electron</text>
<text x="42.95" y="197.70" font-size="12.11" font-weight="bold" fill="#111" textLength="50.10" lengthAdjust="spacingAndGlyphs">Transfer</text>
<text x="95.90" y="197.75" font-size="12.04" font-weight="bold" fill="#111" textLength="11.90" lengthAdjust="spacingAndGlyphs">of</text>
<text x="110.40" y="197.75" font-size="12.04" font-weight="bold" fill="#111" textLength="33.45" lengthAdjust="spacingAndGlyphs">holes</text>
<text x="300.55" y="19.45" font-size="16.23" font-weight="bold" fill="#111" textLength="19.93" lengthAdjust="spacingAndGlyphs">(a)</text>
<text x="647.65" y="24.25" font-size="15.90" font-weight="bold" fill="#111" textLength="20.99" lengthAdjust="spacingAndGlyphs">(b)</text>
<text x="123.30" y="270.45" font-size="14.09" font-weight="bold" fill="#111" textLength="67.66" lengthAdjust="spacingAndGlyphs">Thickness</text>
<text x="194.45" y="270.00" font-size="12.00" font-weight="bold" fill="#111" textLength="28.30" lengthAdjust="spacingAndGlyphs">(&#956;m)</text>
<text x="470.65" y="269.75" font-size="14.02" font-weight="bold" fill="#111" textLength="66.90" lengthAdjust="spacingAndGlyphs">Thickness</text>
<text x="541.30" y="269.55" font-size="13.37" font-weight="bold" fill="#111" textLength="29.45" lengthAdjust="spacingAndGlyphs">(&#956;m)</text>
<text transform="translate(13.70,160.30) rotate(-90)" x="0" y="0" font-size="14.12" font-weight="bold" fill="#111" textLength="76.71" lengthAdjust="spacingAndGlyphs">Energy (eV)</text>
<text transform="translate(354.95,247.40) rotate(-90)" x="0" y="0" font-size="12.95" font-weight="bold" fill="#111" textLength="236.05" lengthAdjust="spacingAndGlyphs">Generation/Recombination (cm<tspan dy="-6">3</tspan><tspan dy="6">.s)</tspan><tspan dy="-6">-1</tspan></text>
</svg>
</body></html>
